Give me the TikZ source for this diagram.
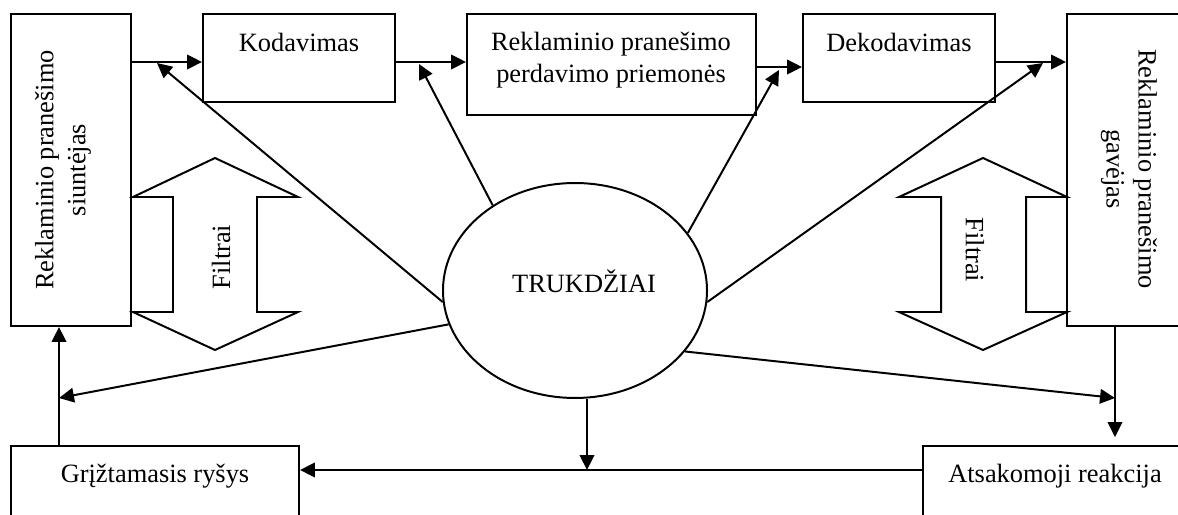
\documentclass[tikz,border=0pt]{standalone}
\usepackage{fontspec}
\setmainfont{Liberation Serif}
\usetikzlibrary{arrows.meta,fit,calc,shapes.geometric}
\begin{document}
\begin{tikzpicture}[x=0.4545pt,y=-0.4545pt,
  line width=0.9pt,
  every node/.style={font=\fontsize{12pt}{14.5pt}\selectfont},
  box/.style={draw, rectangle, inner sep=0pt, line width=0.9pt},
  txt/.style={inner sep=0pt, align=center},
  arr/.style={-{Triangle[length=6.8pt,width=6.6pt]}},
  filter/.style={draw, line width=0.9pt, line join=miter},
]
\useasboundingbox (0,0) rectangle (1178,515);
\clip (0,0) rectangle (1178,515);

% boxes of the communication chain
\node[box, fit={(11,14) (131,326)}]   (snd)  {};
\node[box, fit={(203,14) (395,102)}]  (kod)  {};
\node[box, fit={(467,14) (756,115)}]  (med)  {};
\node[box, fit={(803,14) (995,102)}]  (dek)  {};
\node[box, fit={(1067,14) (1200,326)}] (rcv) {};
\node[box, fit={(11,446) (299,560)}]  (fb)   {};
\node[box, fit={(923,446) (1200,560)}] (resp) {};

% noise
\node[draw, ellipse, inner sep=0pt, minimum width=120pt, minimum height=97.7pt] (tr) at (575,290.5) {};
\node[txt] (trtxt) at (584,281) {TRUKDŽIAI};

% box labels
\node[txt, rotate=90]  (sndtxt) at (63,170)  {Reklaminio pranešimo\\siuntėjas};
\node[txt, rotate=-90] (rcvtxt) at (1129,169) {Reklaminio pranešimo\\gavėjas};
\node[txt] (kodtxt) at (299,42) {Kodavimas};
\node[txt] (medtxt) at (611,60) {Reklaminio pranešimo\\perdavimo priemonės};
\node[txt] (dektxt) at (899,42) {Dekodavimas};
\node[txt] (fbtxt)  at (155,476) {Grįžtamasis ryšys};
\node[txt] (resptxt) at (1055,476) {Atsakomoji reakcija};

% filters (double arrows)
\draw[filter] (215,158) -- (298,197) -- (257,197) -- (257,312) -- (298,312)
  -- (215,350) -- (133,312) -- (173,312) -- (173,197) -- (133,197) -- cycle;
\draw[filter] (983,158) -- (1067,197) -- (1026,197) -- (1026,312) -- (1067,312)
  -- (983,350) -- (899,312) -- (941,312) -- (941,197) -- (899,197) -- cycle;
\node[txt, rotate=90]  (filtl) at (221,257) {Filtrai};
\node[txt, rotate=-90] (filtr) at (975,250) {Filtrai};

% reference rows and junctions
\coordinate (ya) at (0,62);
\coordinate (yb) at (0,67);
\coordinate (j1) at (157,63);
\coordinate (j2) at (419,64);
\coordinate (j3) at (779,70);
\coordinate (j4) at (1043,63);
\coordinate (j5) at (59,398);
\coordinate (j6) at (1115,398);
\coordinate (fy) at (587,470);

% main chain
\draw[arr] (snd.east |- ya) -- (kod.west |- ya);
\draw[arr] (kod.east |- ya) -- (med.west |- ya);
\draw[arr] (med.east |- yb) -- (dek.west |- yb);
\draw[arr] (dek.east |- ya) -- (rcv.west |- ya);

% noise influences
\draw[arr] (tr.185) -- (j1);
\draw[arr] (tr.134.5) -- (j2);
\draw[arr] (tr.27) -- (j3);
\draw[arr] (tr.-5) -- (j4);
\draw[arr] (tr.195) -- (j5);
\draw[arr] (tr.-29.3) -- (j6);
\draw[arr] (fy |- tr.south) -- (fy);

% response and feedback
\draw[arr, shorten >=3.6pt] (rcv.south -| j6) -- (resp.north -| j6);
\draw[arr] (resp.west |- fy) -- (fb.east |- fy);
\draw[arr] (fb.north -| j5) -- (snd.south -| j5);
\end{tikzpicture}
\end{document}
